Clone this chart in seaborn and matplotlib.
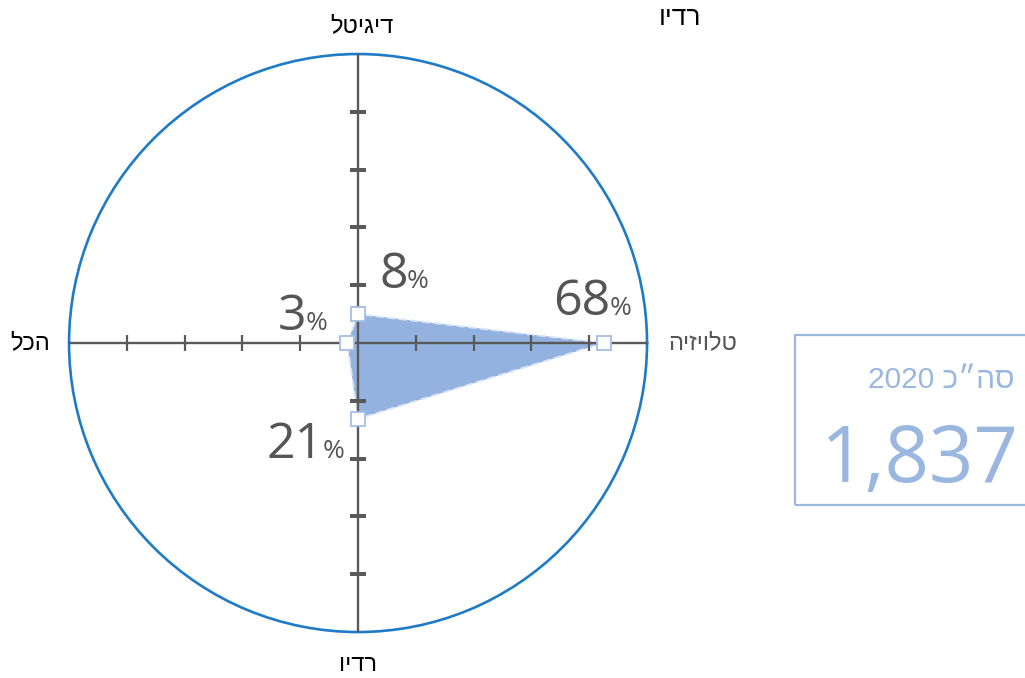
import numpy as np
import matplotlib
matplotlib.use("Agg")
import matplotlib.pyplot as plt
import seaborn as sns
from matplotlib.patches import Rectangle

# ---- data ----
categories = ["טלויזיה", "דיגיטל", "הכל", "רדיו"]
counts = [1249, 147, 55, 386]
percents = [68, 8, 3, 21]
total = 1837
total_year_label = "סה״כ 2020"
stray_label = "רדיו"

sns.set_theme(style="white")
plt.rcParams['font.family'] = ['Liberation Sans', 'DejaVu Sans']

DPI = 100
fig = plt.figure(figsize=(10.25, 6.78), dpi=DPI)
px = 72.0 / DPI  # points per pixel


def visual_rtl(s):
    # display order for a left-to-right renderer: reverse word order, reverse Hebrew words
    words = s.split(' ')
    out = []
    for w in reversed(words):
        if any('\u0590' <= ch <= '\u05ff' for ch in w):
            out.append(w[::-1])
        else:
            out.append(w)
    return ' '.join(out)


ax = fig.add_axes([0.0673, 0.0678, 0.564, 0.8525], projection='polar')
rmax = 1470
ax.set_ylim(0, rmax)
ax.set_xticks([])
ax.set_yticks([])
ax.grid(False)
ax.patch.set_alpha(0)
ax.spines['polar'].set_color('#1f7bc6')
ax.spines['polar'].set_linewidth(1.9)

thetas = np.deg2rad([0, 90, 180, 270])
axis_col = '#595959'
tick_vals = [rmax * k / 5 for k in range(1, 5)]

# filled polygon
th_c = np.append(thetas, thetas[0])
r_c = np.append(counts, counts[0])
ax.fill(th_c, r_c, color='#94b2df', zorder=2, lw=0)
ax.plot(th_c, r_c, ls=(0, (4, 2)), color='#dde6f5', lw=1.4, zorder=3)

# axes lines with ticks
for i, th in enumerate(thetas):
    ax.plot([th, th], [0, rmax], color=axis_col, lw=1.7, zorder=4, solid_capstyle='butt')
    mk = '|' if i % 2 == 0 else '_'
    ax.plot([th] * len(tick_vals), tick_vals, ls='none', marker=mk, ms=11,
            mew=1.6, color=axis_col, zorder=4)

# markers
ax.plot(thetas, counts, ls='none', marker='s', ms=10, mfc='white',
        mec='#a3bde4', mew=1.3, zorder=5, clip_on=False)

# percentage labels
offsets = [(7, 28), (50, 26), (-41, 13), (-34, -39)]
for th, r, p, (dx, dy) in zip(thetas, counts, percents, offsets):
    ax.annotate(str(p), xy=(th, r), xytext=(dx * px, dy * px), textcoords='offset points',
                ha='right', va='baseline', fontsize=36, color='#555555',
                family=['Open Sans', 'DejaVu Sans'], zorder=6)
    ax.annotate('%', xy=(th, r), xytext=((dx - 1) * px, dy * px), textcoords='offset points',
                ha='left', va='baseline', fontsize=19, color='#555555',
                family=['Open Sans', 'DejaVu Sans'], zorder=6)

# category labels
cat_pos = [((21, 0), 'left', 'center', '#555555'),
           ((4, 28), 'center', 'center', 'black'),
           ((-19, 0), 'right', 'center', 'black'),
           ((0, -33), 'center', 'center', 'black')]
for th, name, ((dx, dy), ha, va, col) in zip(thetas, categories, cat_pos):
    ax.annotate(visual_rtl(name), xy=(th, rmax), xytext=(dx * px, dy * px),
                textcoords='offset points', ha=ha, va=va, fontsize=17, color=col,
                annotation_clip=False)

fig.text(680 / 1025, 1 - 18 / 678, visual_rtl(stray_label), ha='center', va='center',
         fontsize=19, color='black')

# total box
box_col = '#9ab7e0'
fig.patches.append(Rectangle((795 / 1025, 1 - 505 / 678), 240 / 1025, 170 / 678,
                             transform=fig.transFigure, fill=False, ec=box_col, lw=1.6))

fig.text(1015 / 1025, 1 - 388 / 678, visual_rtl(total_year_label), ha='right', va='baseline',
         fontsize=21.5, color=box_col)
fig.text(1019 / 1025, 1 - 482 / 678, f"{total:,}", ha='right', va='baseline',
         fontsize=56, color=box_col, family=['Open Sans', 'DejaVu Sans'])

fig.savefig('out.png', dpi=DPI)
